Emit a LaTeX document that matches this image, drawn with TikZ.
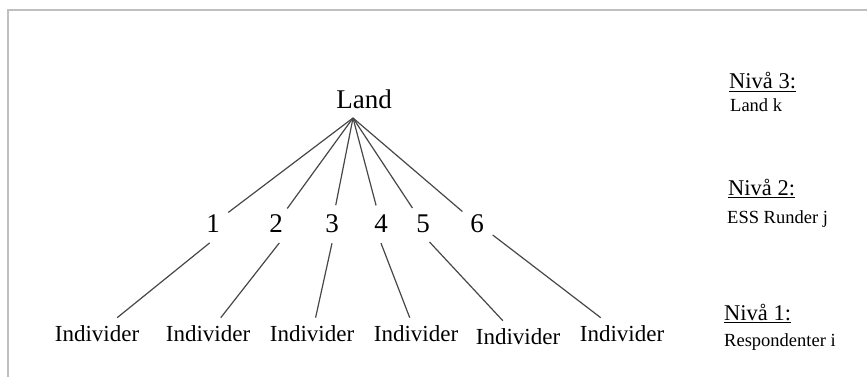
\documentclass[tikz,border=0pt]{standalone}
\usepackage{fontspec}
\setmainfont{Liberation Serif}
\usetikzlibrary{positioning}

\begin{document}
\begin{tikzpicture}[
    x=1pt, y=-1pt,
    top/.style={inner sep=0pt, font=\fontsize{27}{30}\selectfont},
    round/.style={circle, minimum size=38pt, inner sep=0pt, font=\fontsize{27}{30}\selectfont},
    indiv/.style={rectangle, inner sep=8pt, font=\fontsize{23}{26}\selectfont},
    niva/.style={anchor=base west, inner sep=0pt, font=\fontsize{22.5}{26}\selectfont},
    sub/.style={anchor=base west, inner sep=0pt, font=\fontsize{18.5}{22}\selectfont},
    link/.style={draw=black!72, line width=1.2pt},
]
\useasboundingbox (0,0) rectangle (867,377);
\draw[black!25, line width=2pt] (8,377) -- (8,10) -- (867,10);

\node[top] (land) at (364,99) {Land};
\coordinate (apex) at (353,118);

\node[round] (n1) at (213,224) {1};
\node[round] (n2) at (276,224) {2};
\node[round] (n3) at (332,224) {3};
\node[round] (n4) at (381,224) {4};
\node[round] (n5) at (423,224) {5};
\node[round] (n6) at (477,224) {6};

\node[indiv] (i1) at (97,334) {Individer};
\node[indiv] (i2) at (208,334) {Individer};
\node[indiv] (i3) at (312,334) {Individer};
\node[indiv] (i4) at (416,334) {Individer};
\node[indiv] (i5) at (518,337) {Individer};
\node[indiv] (i6) at (622,334) {Individer};

\foreach \k/\a in {1/-100,2/-80,3/-90,4/-90,5/-70,6/-35} {
  \draw[link] (apex) -- (n\k);
  \draw[link] (n\k.\a) -- (i\k);
}

\node[niva] (niva3) at (729,89) {\underline{Nivå 3:}};
\node[sub] (landk) at (730,112) {Land k};
\node[niva] (niva2) at (728,195) {\underline{Nivå 2:}};
\node[sub] (runder) at (727,223) {ESS Runder j};
\node[niva] (niva1) at (724,320) {\underline{Nivå 1:}};
\node[sub] (resp) at (724,346) {Respondenter i};
\end{tikzpicture}
\end{document}
